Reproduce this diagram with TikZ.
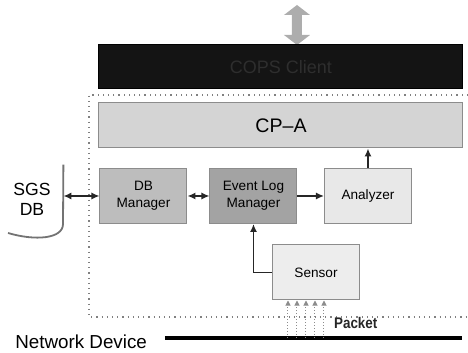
\documentclass[tikz,border=0pt]{standalone}
\usepackage{fontspec}
\setmainfont{Liberation Sans}
\usetikzlibrary{arrows.meta}

\begin{document}
\begin{tikzpicture}[x=0.5pt, y=-0.5pt, font=\fontsize{6.8}{8.5}\selectfont]
        \tikzstyle{block} = [draw=black!45, line width=0.5pt, minimum width=43.5pt, minimum height=27.5pt, align=center, inner sep=1pt];
        \tikzstyle{layer} = [block, minimum width=182pt, minimum height=22.5pt];
        \tikzstyle{link} = [black!85, line width=0.8pt, -{Latex[length=4pt,width=3.6pt]}];
        \tikzstyle{packet} = [black!45, densely dotted, line width=0.5pt, -{Triangle[length=2.6pt,width=2.6pt]}];

        \useasboundingbox (0,0) rectangle (468,353);

        \fill [black!32] (297,5) -- (310,15) -- (302,15) -- (302,35) -- (310,35) -- (297,45)
            -- (284,35) -- (292,35) -- (292,15) -- (284,15) -- cycle;
        \node [layer, fill=black!92, draw=black, text=black!82, minimum height=22pt,
            font=\fontsize{9}{10}\selectfont] (cops) at (281,67) {COPS Client};

        \draw [dotted, black!50, line width=0.6pt] (468,95) -- (89,95) -- (89,317) -- (468,317);

        \node [layer, fill=black!17, font=\fontsize{9.8}{11}\selectfont] (cpa) at (281,125.5) {CP--A};

        \node [block, fill=black!26] (dbm) at (143.5,196) {DB\\Manager};
        \node [block, fill=black!36] (elm) at (253.5,196) {Event Log\\Manager};
        \node [block, fill=black!9] (ana) at (368,196) {Analyzer};
        \node [block, fill=black!7] (sen) at (316,272.5) {Sensor};

        \node [minimum width=31pt, minimum height=34pt, align=center, inner sep=0pt,
            font=\fontsize{8.8}{10}\selectfont] (sgs) at (32,199) {SGS\\DB};
        \draw [black!55, line width=0.9pt] (sgs.north east) -- (63,224)
            .. controls (63,239) and (35,241) .. (8,233);

        \draw [link, {Latex[length=4pt,width=3.6pt]}-{Latex[length=4pt,width=3.6pt]}] (sgs.east |- dbm.west) -- (dbm.west);
        \draw [link, {Latex[length=4pt,width=3.6pt]}-{Latex[length=4pt,width=3.6pt]}] (dbm.east) -- (elm.west);
        \draw [link] (elm.east) -- (ana.west);
        \draw [link] (ana.north) -- (ana.north |- cpa.south);
        \draw [link] (sen.west) -| (elm.south);

        \coordinate (netl) at (165,338);
        \coordinate (netr) at (462,338);
        \draw [black, line width=1.6pt] (netl) -- (netr);
        \node [anchor=east, font=\fontsize{9.4}{11}\selectfont] (net) at (154,342) {Network Device};

        \foreach \x [count=\i] in {288,297,306,315,324} {
            \coordinate (pk\i) at (\x,338);
            \draw [packet] (pk\i) -- (pk\i |- sen.south);
        }
        \node [anchor=west, font=\bfseries\fontsize{7.7}{9}\selectfont, xscale=0.87, black!85] (pkt) at (328,323) {Packet};
\end{tikzpicture}
\end{document}
